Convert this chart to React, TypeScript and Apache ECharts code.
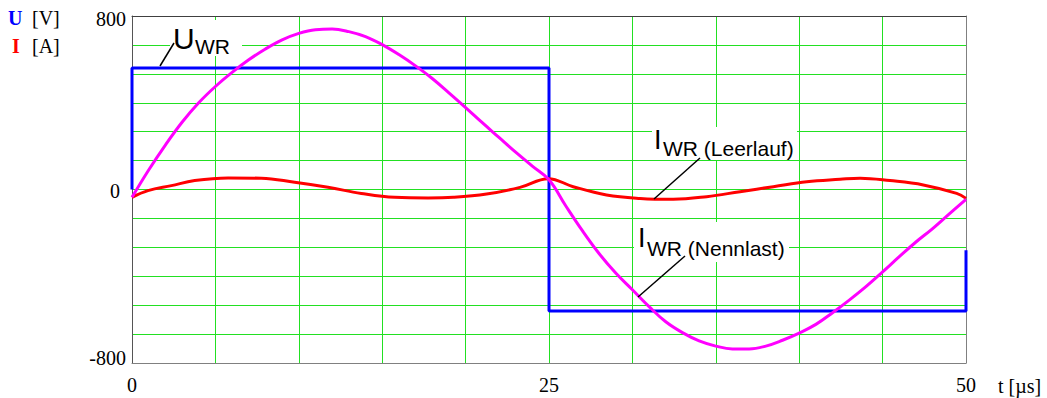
import React, { useEffect, useRef } from "react";
import * as echarts from "echarts";

// U_WR (square wave)
const tU = [0, 0, 25, 25, 50, 50];
const vU = [0, 560, 560, -560, -560, -280];

// I_WR (Nennlast)
const tNenn = [0, 1, 2, 3, 4, 5, 6, 7, 8, 9, 10, 11, 12, 13, 14, 15, 16, 17, 18, 19, 20, 21, 22, 23, 24, 25,
  26, 27, 28, 29, 30, 31, 32, 33, 34, 35, 36, 37, 38, 39, 40, 41, 42, 43, 44, 45, 46, 47, 48, 49, 50];
const iNenn = [-36, 90, 205, 310, 400, 475, 540, 598, 648, 690, 720, 737, 740, 728, 705, 668, 622, 570, 512, 446, 378, 308, 240, 172, 108, 45,
  -75, -190, -295, -385, -462, -540, -610, -660, -698, -722, -735, -735, -722, -695, -662, -622, -568, -510, -448, -380, -310, -242, -180, -112, -45];

// I_WR (Leerlauf)
const tLeer = [0, 0.96, 2.36, 3.76, 5.76, 7.75, 9.75, 11.75, 13.75, 15.75, 17.75, 19.26, 21.26, 23.26, 24.96,
  26.45, 28.45, 30.46, 32.45, 34.45, 36.45, 38.45, 40.45, 42.45, 43.65, 45.44, 47.44, 49.44, 50];
const iLeer = [-36, -5, 18, 41, 53, 52, 33, 10, -18, -36, -39, -36, -21, 10, 50,
  13, -25, -41, -45, -33, -10, 13, 36, 47, 52, 41, 21, -18, -41];

const yTicks = [-800, 0, 800];
const xTicks = [0, 25, 50];

const pairs = (xs: number[], ys: number[]) => xs.map((x, i) => [x, ys[i]]);

export default function App() {
  const ref = useRef<HTMLDivElement>(null);
  useEffect(() => {
    if (!ref.current) return;
    const chart = echarts.init(ref.current, null, { renderer: "svg" });
    const green = "#22e022";
    const sans = "Liberation Sans";
    const serif = "Liberation Serif";
    chart.setOption({
      animation: false,
      backgroundColor: "#fff",
      grid: { left: 132, right: 81, top: 16, bottom: 35 },
      xAxis: [
        {
          type: "value", min: 0, max: 50, interval: 5, position: "bottom",
          axisLine: { show: true, onZero: false, lineStyle: { color: "#808080", width: 1 } },
          axisTick: { show: false },
          splitLine: { show: true, lineStyle: { color: green, width: 1 } },
          axisLabel: {
            margin: 12, fontFamily: serif, fontSize: 20, color: "#000",
            formatter: (v: number) => (xTicks.includes(v) ? String(v) : ""),
          },
          name: "t [µs]", nameLocation: "end", nameGap: 32,
          nameTextStyle: { fontFamily: serif, fontSize: 20, color: "#000", verticalAlign: "top", padding: [13, 0, 0, 0] },
        },
        {
          type: "value", min: 0, max: 50, position: "top",
          axisLine: { show: true, onZero: false, lineStyle: { color: "#404040", width: 1 } },
          axisTick: { show: false }, axisLabel: { show: false }, splitLine: { show: false },
        },
      ],
      yAxis: [
        {
          type: "value", min: -800, max: 800, interval: 800, position: "left",
          axisLine: { show: true, onZero: false, lineStyle: { color: "#555", width: 1 } },
          axisTick: { show: false }, splitLine: { show: false },
          axisLabel: {
            margin: 6, fontFamily: serif, fontSize: 20, color: "#000",
            formatter: (v: number) => {
              if (!yTicks.includes(v)) return "";
              if (v === 800) return "{a|800}";
              if (v === -800) return "{b|-800}";
              return "{c|0}";
            },
            rich: {
              a: { fontFamily: serif, fontSize: 20, color: "#000", padding: [6, 0, 0, 0] },
              b: { fontFamily: serif, fontSize: 20, color: "#000", padding: [0, 0, 11, 0] },
              c: { fontFamily: serif, fontSize: 20, color: "#000", padding: [2, 6, 0, 0] },
            },
          },
        },
        {
          type: "value", min: -6, max: 6, interval: 1, position: "right",
          axisLine: { show: true, onZero: false, lineStyle: { color: "#808080", width: 1 } },
          axisTick: { show: false }, axisLabel: { show: false },
          splitLine: { show: true, lineStyle: { color: green, width: 1 } },
        },
      ],
      series: [
        {
          type: "line", name: "U_WR", data: pairs(tU, vU), xAxisIndex: 0, yAxisIndex: 0,
          showSymbol: false, symbol: "none", lineStyle: { color: "#0000ff", width: 3 }, z: 3,
        },
        {
          type: "line", name: "I_WR Leerlauf", data: pairs(tLeer, iLeer), xAxisIndex: 0, yAxisIndex: 0,
          showSymbol: false, symbol: "none", smooth: 0.4, lineStyle: { color: "#ff0000", width: 3 }, z: 4,
        },
        {
          type: "line", name: "I_WR Nennlast", data: pairs(tNenn, iNenn), xAxisIndex: 0, yAxisIndex: 0,
          showSymbol: false, symbol: "none", smooth: 0.4, lineStyle: { color: "#ff00ff", width: 3 }, z: 5,
        },
      ],
      graphic: [
        // axis unit labels
        { type: "text", left: 8, top: 8, style: { text: "U", fontFamily: serif, fontWeight: "bold", fontSize: 20, fill: "#0000ff" } },
        { type: "text", left: 32, top: 8, style: { text: "[V]", fontFamily: serif, fontSize: 20, fill: "#000" } },
        { type: "text", left: 12, top: 36, style: { text: "I", fontFamily: serif, fontWeight: "bold", fontSize: 20, fill: "#ff0000" } },
        { type: "text", left: 32, top: 36, style: { text: "[A]", fontFamily: serif, fontSize: 20, fill: "#000" } },
        // U_WR annotation
        { type: "rect", shape: { x: 170, y: 20, width: 72, height: 36 }, style: { fill: "#fff" }, z: 10 },
        { type: "line", shape: { x1: 160, y1: 66, x2: 174, y2: 43 }, style: { stroke: "#000", lineWidth: 1.5 }, z: 11 },
        { type: "text", x: 173, y: 38, style: { text: "U", fontFamily: sans, fontSize: 30, fill: "#000", verticalAlign: "middle" }, z: 11 },
        { type: "text", x: 195, y: 46, style: { text: "WR", fontFamily: sans, fontSize: 21, fill: "#000", verticalAlign: "middle" }, z: 11 },
        // Leerlauf annotation
        { type: "rect", shape: { x: 652, y: 127, width: 145, height: 33 }, style: { fill: "#fff" }, z: 10 },
        { type: "line", shape: { x1: 654, y1: 199, x2: 700, y2: 158 }, style: { stroke: "#000", lineWidth: 1.5 }, z: 11 },
        { type: "text", x: 654, y: 140, style: { text: "I", fontFamily: sans, fontSize: 27, fill: "#000", verticalAlign: "middle" }, z: 11 },
        { type: "text", x: 663, y: 148, style: { text: "WR (Leerlauf)", fontFamily: sans, fontSize: 21, fill: "#000", verticalAlign: "middle" }, z: 11 },
        // Nennlast annotation
        { type: "rect", shape: { x: 634, y: 222, width: 155, height: 40 }, style: { fill: "#fff" }, z: 10 },
        { type: "line", shape: { x1: 638, y1: 297, x2: 685, y2: 256 }, style: { stroke: "#000", lineWidth: 1.5 }, z: 11 },
        { type: "text", x: 638, y: 238, style: { text: "I", fontFamily: sans, fontSize: 27, fill: "#000", verticalAlign: "middle" }, z: 11 },
        { type: "text", x: 647, y: 248, style: { text: "WR (Nennlast)", fontFamily: sans, fontSize: 21, fill: "#000", verticalAlign: "middle" }, z: 11 },
      ],
    });
    return () => chart.dispose();
  }, []);
  return <div ref={ref} style={{ position: "fixed", left: 0, top: 0, width: 1047, height: 398 }} />;
}
